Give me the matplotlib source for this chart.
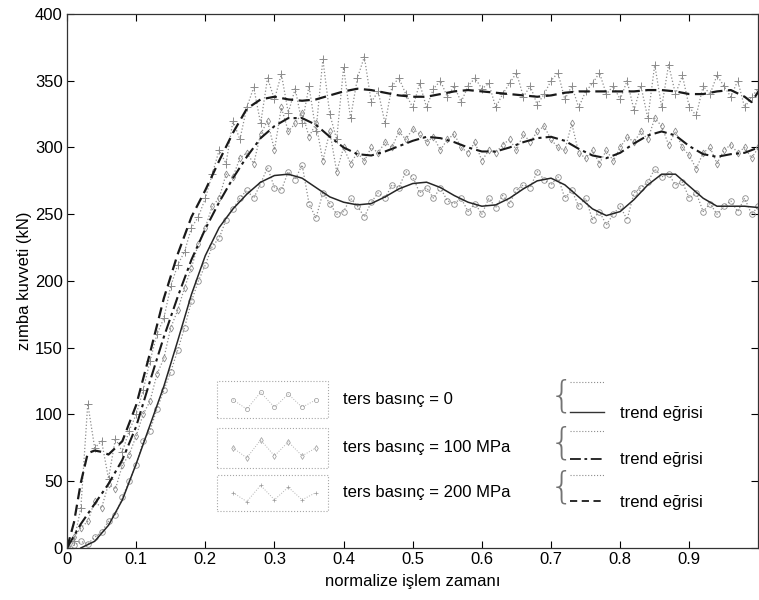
import matplotlib
matplotlib.use("Agg")
import matplotlib.pyplot as plt
from matplotlib.patches import Rectangle

plt.rcParams['font.family'] = ['Liberation Sans', 'DejaVu Sans']

# normalize işlem zamanı (ölçüm noktaları)
t = [i / 100 for i in range(101)]

# ters basınç = 0  (o)
f0 = [0, 2, 5, 3, 8, 12, 20, 25, 38, 50,
      62, 80, 88, 104, 118, 132, 148, 165, 185, 200,
      212, 226, 232, 246, 254, 262, 268, 262, 273, 285,
      270, 268, 282, 276, 287, 258, 247, 266, 258, 250,
      252, 262, 256, 248, 259, 266, 262, 272, 270, 282,
      278, 266, 270, 262, 270, 260, 258, 262, 252, 258,
      250, 262, 255, 264, 258, 268, 272, 270, 282, 276,
      272, 278, 262, 268, 256, 262, 246, 252, 242, 250,
      256, 246, 266, 270, 274, 284, 278, 280, 272, 274,
      262, 266, 252, 258, 250, 256, 260, 252, 262, 250, 256]

# ters basınç = 100 MPa  (d)
f100 = [0, 8, 15, 20, 35, 30, 48, 44, 62, 70,
        84, 100, 110, 130, 142, 165, 178, 195, 210, 228,
        240, 256, 262, 280, 278, 292, 296, 288, 310, 320,
        298, 330, 312, 318, 326, 308, 318, 290, 312, 282,
        300, 288, 296, 290, 300, 296, 304, 300, 312, 306,
        314, 310, 304, 308, 298, 306, 310, 300, 296, 304,
        290, 298, 296, 302, 306, 298, 310, 304, 312, 316,
        306, 300, 298, 318, 296, 292, 298, 288, 298, 290,
        300, 308, 304, 312, 306, 322, 316, 302, 312, 300,
        294, 284, 296, 300, 288, 298, 302, 296, 300, 292, 300]

# ters basınç = 200 MPa  (+)
f200 = [0, 5, 30, 108, 75, 80, 52, 82, 72, 88,
        100, 118, 140, 160, 172, 196, 212, 222, 240, 248,
        262, 280, 298, 288, 320, 306, 330, 345, 318, 352,
        336, 355, 326, 344, 318, 346, 312, 366, 325, 306,
        360, 322, 352, 368, 334, 342, 318, 346, 352, 340,
        330, 348, 330, 344, 350, 338, 346, 334, 346, 352,
        344, 348, 330, 340, 348, 356, 338, 346, 332, 340,
        350, 356, 336, 346, 330, 342, 348, 356, 340, 346,
        336, 350, 328, 346, 322, 362, 330, 362, 340, 354,
        330, 324, 346, 340, 354, 346, 338, 350, 330, 338, 344]

# trend eğrileri
t0 = [0.02, 0.04, 0.06, 0.08, 0.10, 0.12, 0.14, 0.16, 0.18, 0.20,
      0.22, 0.24, 0.26, 0.28, 0.30, 0.32, 0.34, 0.36, 0.38, 0.40,
      0.42, 0.44, 0.46, 0.48, 0.50, 0.52, 0.54, 0.56, 0.58, 0.60,
      0.62, 0.64, 0.66, 0.68, 0.70, 0.72, 0.74, 0.76, 0.78, 0.80,
      0.82, 0.84, 0.86, 0.88, 0.90, 0.92, 0.94, 0.96, 0.98, 1.00]
tr0 = [0, 5, 17, 36, 63, 92, 121, 155, 190, 219,
       240, 254, 265, 274, 279, 280, 277, 270, 263, 259,
       257, 258, 263, 269, 273, 274, 270, 264, 259, 256,
       257, 262, 269, 275, 277, 272, 263, 254, 249, 252,
       261, 272, 280, 280, 271, 262, 256, 256, 256, 255]

t100 = [0.0, 0.02, 0.04, 0.06, 0.08, 0.10, 0.12, 0.14, 0.16, 0.18,
        0.20, 0.22, 0.24, 0.26, 0.28, 0.30, 0.32, 0.34, 0.36, 0.38,
        0.40, 0.42, 0.44, 0.46, 0.48, 0.50, 0.52, 0.54, 0.56, 0.58,
        0.60, 0.62, 0.64, 0.66, 0.68, 0.70, 0.72, 0.74, 0.76, 0.78,
        0.80, 0.82, 0.84, 0.86, 0.88, 0.90, 0.92, 0.94, 0.96, 0.98, 1.00]
tr100 = [0, 18, 33, 48, 66, 91, 125, 158, 188, 216,
         239, 259, 277, 293, 307, 316, 322, 322, 317, 308,
         300, 295, 294, 297, 301, 305, 308, 307, 304, 300,
         297, 297, 300, 304, 307, 308, 305, 299, 294, 292,
         296, 303, 309, 312, 309, 301, 295, 293, 295, 296, 300]

t200 = [0.0, 0.01, 0.02, 0.03, 0.04, 0.05, 0.06, 0.08, 0.10, 0.12,
        0.14, 0.16, 0.18, 0.20, 0.22, 0.24, 0.26, 0.28, 0.30, 0.32,
        0.34, 0.36, 0.38, 0.40, 0.42, 0.44, 0.46, 0.48, 0.50, 0.52,
        0.54, 0.56, 0.58, 0.60, 0.62, 0.64, 0.66, 0.68, 0.70, 0.72,
        0.74, 0.76, 0.78, 0.80, 0.82, 0.84, 0.86, 0.88, 0.90, 0.92,
        0.94, 0.96, 0.98, 0.99, 1.00]
tr200 = [0, 19, 49, 71, 73, 72, 70, 80, 107, 146,
         187, 220, 248, 268, 290, 311, 329, 336, 338, 336,
         335, 336, 339, 342, 344, 343, 341, 339, 338, 338,
         340, 342, 343, 342, 341, 340, 339, 338, 339, 341,
         342, 342, 342, 342, 342, 343, 343, 342, 340, 340,
         342, 343, 338, 334, 342]

fig = plt.figure(figsize=(7.59, 6.0), dpi=100)
ax = fig.add_axes([0.0883, 0.0867, 0.911, 0.890])

grey = '0.55'
ax.plot(t, f0, ':', color=grey, lw=0.9, marker='o', ms=4, mfc='none', mec=grey, mew=0.6)
ax.plot(t, f100, ':', color=grey, lw=0.9, marker='d', ms=3.5, mfc='none', mec=grey, mew=0.6)
ax.plot(t, f200, ':', color=grey, lw=0.9, marker='+', ms=6, mec=grey, mew=0.7)

ax.plot(t0, tr0, '-', color='0.15', lw=1.1)
ax.plot(t100, tr100, color='0.1', lw=1.5, dashes=(6, 2, 1.5, 2))
ax.plot(t200, tr200, color='0.1', lw=1.6, dashes=(5, 2.5))

ax.set_xlim(0, 1)
ax.set_ylim(0, 400)
ax.set_xticks([0, 0.1, 0.2, 0.3, 0.4, 0.5, 0.6, 0.7, 0.8, 0.9])
ax.set_xticklabels(['0', '0.1', '0.2', '0.3', '0.4', '0.5', '0.6', '0.7', '0.8', '0.9'])
ax.set_yticks(range(0, 401, 50))
ax.tick_params(direction='in', top=True, right=True, length=5, width=0.8, labelsize=12, pad=3)
for s in ax.spines.values():
    s.set_linewidth(0.9)
    s.set_color('0.2')

ax.set_xlabel('normalize işlem zamanı', fontsize=12, labelpad=5)
ax.set_ylabel('zımba kuvveti (kN)', fontsize=12, labelpad=2)

# açıklama kutuları
labels = ['ters basınç = 0', 'ters basınç = 100 MPa', 'ters basınç = 200 MPa']
marks = ['o', 'd', '+']
boxes = [(97, 125), (60, 90), (28, 55)]
for lab, m, (y0, y1) in zip(labels, marks, boxes):
    ax.add_patch(Rectangle((0.217, y0), 0.16, y1 - y0, fill=False,
                           ls=':', lw=0.8, edgecolor='0.65'))
    zx = [0.24, 0.26, 0.28, 0.30, 0.32, 0.34, 0.36]
    zy = [y0 + (y1 - y0) * f for f in (0.5, 0.25, 0.7, 0.3, 0.65, 0.3, 0.5)]
    ax.plot(zx, zy, ':', color='0.7', lw=0.7, marker=m, ms=3, mfc='none', mec='0.6', mew=0.5)
    ax.text(0.399, (y0 + y1) / 2, lab, fontsize=12, va='center', ha='left')

# trend eğrisi açıklamaları
braces = [(102, 124, '-', None), (67, 88, None, (6, 2, 1.5, 2)), (35, 55, None, (4, 2.5))]
for yb, yt, ls, dsh in braces:
    ax.text(0.716, (yb + yt) / 2 + 1, '{', fontsize=27, color='0.45', ha='center', va='center',
            family='DejaVu Sans', fontweight='ultralight')
    ax.plot([0.728, 0.777], [yt, yt], ':', color='0.55', lw=0.8)
    if dsh is None:
        ax.plot([0.728, 0.777], [yb, yb], '-', color='0.2', lw=1.0)
    else:
        ax.plot([0.728, 0.777], [yb, yb], color='0.1', lw=1.3, dashes=dsh)
    ax.text(0.80, yb - 1, 'trend eğrisi', fontsize=12, va='center', ha='left')

fig.savefig('out.png', dpi=100)
